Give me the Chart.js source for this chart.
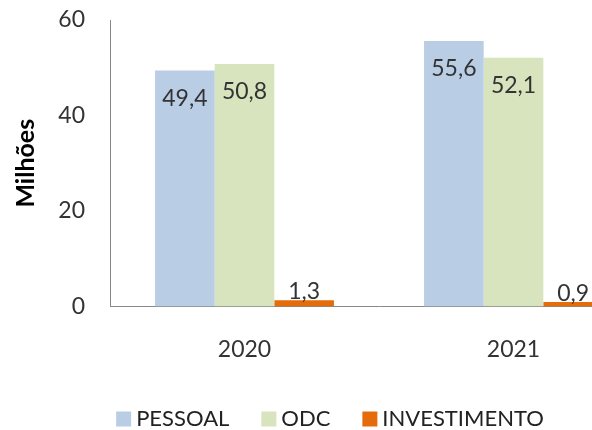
<!DOCTYPE html>
<html>
<head>
<meta charset="utf-8">
<script src="https://cdn.jsdelivr.net/npm/chart.js@4"></script>
<style>
  html, body { margin: 0; padding: 0; background: #fff; overflow: hidden; }
  #wrap { width: 660px; height: 430px; }
</style>
</head>
<body>
<div id="wrap"><canvas id="despesas" width="660" height="430"></canvas></div>
<script>
const anos = ["2020", "2021"];
const pessoal = [49.4, 55.6];
const odc = [50.8, 52.1];
const investimento = [1.3, 0.9];
const yTicks = [0, 20, 40, 60];

const fonte = "Lato, 'Open Sans', sans-serif";

// rótulos de valor no estilo do Excel (vírgula decimal)
const rotulos = {
  id: "rotulos",
  afterDatasetsDraw(chart) {
    const ctx = chart.ctx;
    ctx.save();
    ctx.font = "23px " + fonte;
    ctx.fillStyle = "#333";
    ctx.textAlign = "center";
    ctx.textBaseline = "middle";
    chart.data.datasets.forEach((ds, i) => {
      chart.getDatasetMeta(i).data.forEach((bar, j) => {
        const v = ds.data[j];
        const txt = v.toFixed(1).replace(".", ",");
        const y = v > 5 ? bar.y + 28 : bar.y - 9;
        ctx.fillText(txt, bar.x, y);
      });
    });
    ctx.restore();
  }
};

// legenda desenhada à mão, com o espaçamento do Excel
const legenda = {
  id: "legenda",
  afterDraw(chart) {
    const ctx = chart.ctx;
    const box = 15, gapTexto = 5, gapItem = 32, yMeio = 419;
    ctx.save();
    ctx.font = "22px " + fonte;
    ctx.textBaseline = "middle";
    ctx.textAlign = "left";
    const itens = chart.data.datasets.map(ds => ({
      txt: ds.label, cor: ds.backgroundColor, w: ctx.measureText(ds.label).width
    }));
    let total = itens.reduce((s, it) => s + box + gapTexto + it.w, 0) + gapItem * (itens.length - 1);
    let x = chart.width / 2 - total / 2;
    itens.forEach(it => {
      ctx.fillStyle = it.cor;
      ctx.fillRect(x, yMeio - box / 2, box, box);
      x += box + gapTexto;
      ctx.fillStyle = "#222";
      ctx.fillText(it.txt, x, yMeio);
      x += it.w + gapItem;
    });
    ctx.restore();
  }
};

const ctx = document.getElementById("despesas").getContext("2d");
new Chart(ctx, {
  type: "bar",
  data: {
    labels: anos,
    datasets: [
      { label: "PESSOAL", data: pessoal, backgroundColor: "#b9cde5" },
      { label: "ODC", data: odc, backgroundColor: "#d7e4bd" },
      { label: "INVESTIMENTO", data: investimento, backgroundColor: "#e46c0a" }
    ]
  },
  options: {
    responsive: false,
    animation: false,
    categoryPercentage: 0.665,
    barPercentage: 1.0,
    layout: { padding: { left: 0, right: 12, top: 0, bottom: 38 } },
    scales: {
      x: {
        grid: { display: false, drawTicks: false },
        border: { display: true, color: "#888" },
        ticks: { padding: 29, color: "#333", font: { family: fonte, size: 23 } }
      },
      y: {
        min: 0,
        max: 60,
        afterBuildTicks(scale) { scale.ticks = yTicks.map(v => ({ value: v })); },
        afterFit(scale) {
          scale.width = 110;
          scale.paddingTop = 20;
          scale.paddingBottom = 14;
        },
        grid: { display: false, drawTicks: false },
        border: { display: true, color: "#888" },
        ticks: { padding: 25, color: "#333", font: { family: fonte, size: 23 } },
        title: {
          display: true,
          text: "Milhões",
          color: "#000",
          padding: { top: 11, bottom: 0 },
          font: { family: fonte, size: 25, weight: "bold" }
        }
      }
    },
    plugins: {
      legend: { display: false },
      tooltip: { enabled: false }
    }
  },
  plugins: [rotulos, legenda]
});
</script>
</body>
</html>
